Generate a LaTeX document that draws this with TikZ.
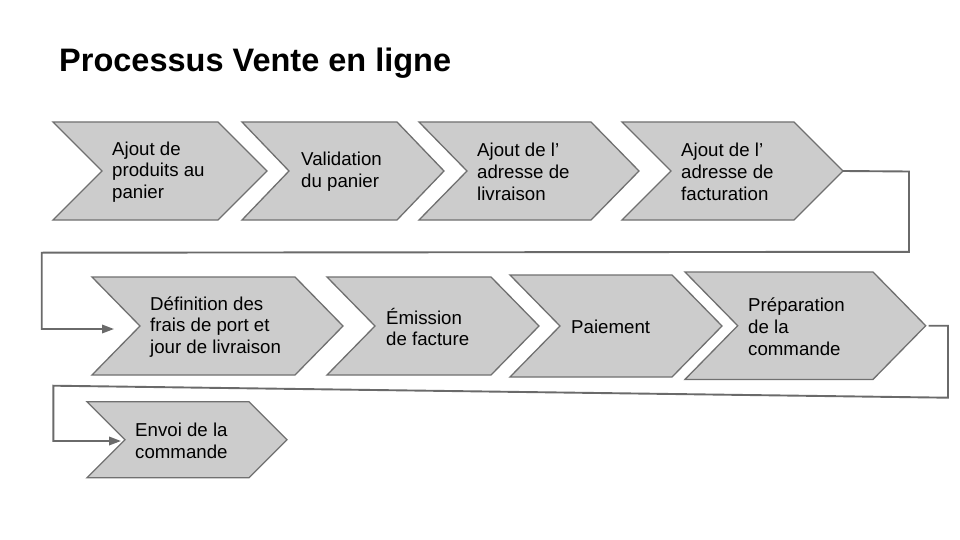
\documentclass[tikz,border=0pt]{standalone}
\usepackage{fontspec}
\setmainfont{Liberation Sans}
\usetikzlibrary{arrows.meta,calc}
\definecolor{chevfill}{HTML}{CCCCCC}
\definecolor{chevline}{HTML}{707070}
\definecolor{connline}{HTML}{6A6A6A}
\tikzset{
  chevstyle/.style={draw=chevline, fill=chevfill, line width=1.3pt, line join=miter},
  conn/.style={draw=connline, line width=1.9pt, -{Triangle[length=12pt,width=8.5pt]}},
  lbl/.style={anchor=west, align=left, inner sep=0pt, font=\fontsize{18.67}{21.8}\selectfont},
  titlestyle/.style={anchor=base west, inner sep=0pt, font=\fontsize{32.5}{38}\selectfont\bfseries}
}
% #1 name, #2 left x, #3 top y, #4 bottom y, #5 top-right x, #6 depth
\newcommand\mkchev[6]{%
  \draw[chevstyle] (#2,#3) -- (#5,#3) -- (#5+#6,{(#3+#4)/2}) -- (#5,#4) -- (#2,#4) -- (#2+#6,{(#3+#4)/2}) -- cycle;
  \coordinate (#1-tip) at (#5+#6,{(#3+#4)/2});
  \coordinate (#1-notch) at (#2+#6,{(#3+#4)/2});
}
\begin{document}
\begin{tikzpicture}[x=1pt,y=-1pt]
\useasboundingbox (0,0) rectangle (960,540);
\fill[white] (0,0) rectangle (960,540);

\node[titlestyle] (title) at (59,71.7) {Processus Vente en ligne};

% row 1
\mkchev{c1}{53}{122}{220}{218}{49}
\mkchev{c2}{242}{122}{220}{397}{47}
\mkchev{c3}{419}{122}{220}{591}{48}
\mkchev{c4}{622}{122}{220}{794}{49}
% row 2
\mkchev{c5}{92}{277}{375}{295}{48}
\mkchev{c6}{327}{277}{375}{491}{48}
\mkchev{c7}{510}{275}{377}{672}{50}
\mkchev{c8}{685}{272}{379.4}{873}{52.7}
% row 3
\mkchev{c9}{87}{401.7}{477.7}{249}{38}

% labels
\node[lbl] (t1) at (112,172) {Ajout de\\produits au\\panier};
\node[lbl] (t2) at (301,172) {Validation\\du panier};
\node[lbl] (t3) at (477,172) {Ajout de l’\\adresse de\\livraison};
\node[lbl] (t4) at (681,172) {Ajout de l’\\adresse de\\facturation};
\node[lbl] (t5) at (150,327) {Définition des\\frais de port et\\jour de livraison};
\node[lbl] (t6) at (386,327) {Émission\\de facture};
\node[lbl] (t7) at (571,327) {Paiement};
\node[lbl] (t8) at (748,327) {Préparation\\de la\\commande};
\node[lbl] (t9) at (135,441) {Envoi de la\\commande};

% connectors
\coordinate (a1) at (909,171.5);
\coordinate (a2) at (909,251.8);
\coordinate (a3) at (41.7,252.7);
\coordinate (a4) at (41.7,329);
\coordinate (a5) at (114,329);
\draw[conn] (c4-tip) -- (a1) -- (a2) -- (a3) -- (a4) -- (a5);

\coordinate (b0) at (928.5,325.7);
\coordinate (b1) at (948,325.7);
\coordinate (b2) at (948,397.7);
\coordinate (b3) at (53.3,385.7);
\coordinate (b4) at (53.3,441);
\coordinate (b5) at (121,441);
\draw[conn] (b0) -- (b1) -- (b2) -- (b3) -- (b4) -- (b5);
\end{tikzpicture}
\end{document}
